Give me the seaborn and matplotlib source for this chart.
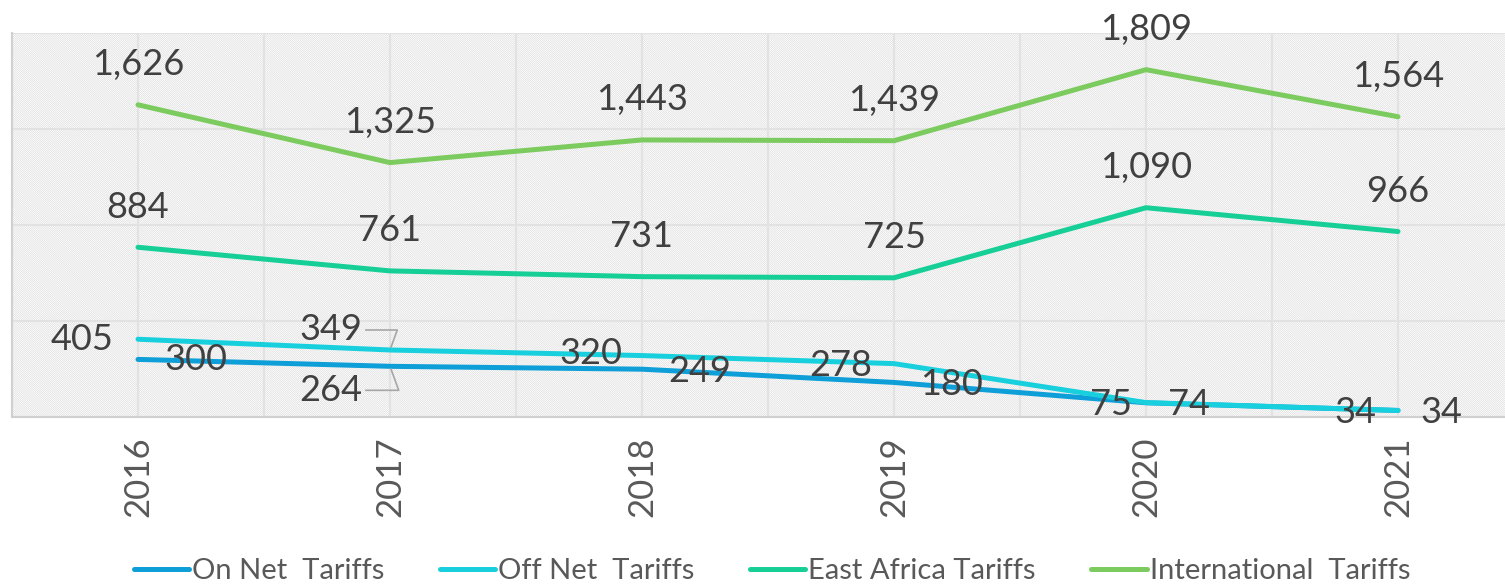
import pandas as pd
import matplotlib.pyplot as plt
import seaborn as sns
from matplotlib.patches import Rectangle

# data
years = ["2016", "2017", "2018", "2019", "2020", "2021"]
on_net = [300, 264, 249, 180, 74, 34]
off_net = [405, 349, 320, 278, 75, 34]
east_africa = [884, 761, 731, 725, 1090, 966]
international = [1626, 1325, 1443, 1439, 1809, 1564]

series_names = ["On Net  Tariffs", "Off Net  Tariffs", "East Africa Tariffs", "International  Tariffs"]
colors = ["#0E9ED8", "#18D0DD", "#15CF96", "#7CCB5E"]

df = pd.DataFrame({
    "Year": years * 4,
    "Value": on_net + off_net + east_africa + international,
    "Series": [s for s in series_names for _ in years],
})

sns.set_style("white")
plt.rcParams["font.family"] = ["Lato", "DejaVu Sans"]
plt.rcParams["hatch.linewidth"] = 0.4

fig = plt.figure(figsize=(15.05, 5.87), dpi=100)
ax = fig.add_axes([12 / 1505, 170 / 587, 1512 / 1505, 384 / 587])

# hatched plot background
ax.add_patch(Rectangle((0, 0), 1, 1, transform=ax.transAxes, facecolor="white",
                       edgecolor="#d6d6d6", hatch="\\" * 16, lw=0, zorder=0))

sns.lineplot(data=df, x="Year", y="Value", hue="Series", palette=colors,
             linewidth=3.6, ax=ax, legend=False, zorder=3)

ax.set_xlim(-0.5, 5.5)
ax.set_ylim(0, 2000)
ax.set_yticks([0, 500, 1000, 1500, 2000])
ax.set_yticklabels([])
ax.set_xticks(range(len(years)))
ax.set_xticks([i + 0.5 for i in range(-1, 6)], minor=True)
ax.grid(True, which="both", color="#e2e2e2", lw=1.5, zorder=1)
ax.set_axisbelow(True)
ax.tick_params(axis="both", which="both", length=0)
ax.tick_params(axis="x", pad=14, labelsize=25, labelcolor="#595959", rotation=90)
ax.set_xlabel("")
ax.set_ylabel("")
for side in ["top", "right"]:
    ax.spines[side].set_visible(False)
for side in ["left", "bottom"]:
    ax.spines[side].set_color("#d0d0d0")
    ax.spines[side].set_linewidth(1.5)

lab_kw = dict(textcoords="offset pixels", fontsize=26, color="#404040", zorder=5)

for i, v in enumerate(international):
    ax.annotate(f"{v:,}", (i, v), xytext=(0, 40), ha="center", va="center", **lab_kw)
for i, v in enumerate(east_africa):
    ax.annotate(f"{v:,}", (i, v), xytext=(0, 40), ha="center", va="center", **lab_kw)

off_shift = [(-24, 0), None, (-20, 2), (-22, -2), (-14, -2), (-22, -2)]
on_shift = [(26, 0), None, (26, -2), (26, -2), (22, -2), (22, -2)]
for i, v in enumerate(off_net):
    if off_shift[i] is None:
        ax.annotate(f"{v:,}", (i, v), xytext=(-59, 20), ha="center", va="center",
                    arrowprops=dict(arrowstyle="-", color="#a6a6a6", lw=1.2,
                                    connectionstyle="angle,angleA=0,angleB=70,rad=0",
                                    shrinkA=32, shrinkB=2), **lab_kw)
    else:
        ax.annotate(f"{v:,}", (i, v), xytext=off_shift[i], ha="right", va="center", **lab_kw)
for i, v in enumerate(on_net):
    if on_shift[i] is None:
        ax.annotate(f"{v:,}", (i, v), xytext=(-59, -24), ha="center", va="center",
                    arrowprops=dict(arrowstyle="-", color="#a6a6a6", lw=1.2,
                                    connectionstyle="angle,angleA=0,angleB=-70,rad=0",
                                    shrinkA=32, shrinkB=2), **lab_kw)
    else:
        ax.annotate(f"{v:,}", (i, v), xytext=on_shift[i], ha="left", va="center", **lab_kw)

handles = [plt.Line2D([], [], color=c, lw=3.6) for c in colors]
fig.legend(handles, series_names, loc="center", bbox_to_anchor=(772 / 1505, 16 / 587),
           ncol=4, frameon=False, fontsize=21, handlelength=1.9, handletextpad=0.1,
           columnspacing=1.9, labelcolor="#595959")

fig.savefig("out.png", dpi=100)
